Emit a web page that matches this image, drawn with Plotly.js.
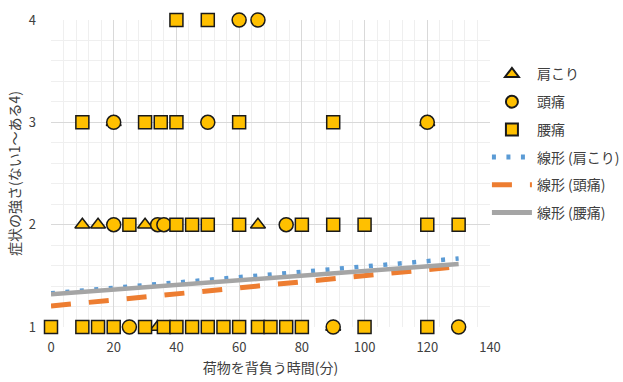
<!DOCTYPE html>
<html>
<head>
<meta charset="utf-8">
<script src="https://cdn.plot.ly/plotly-3.0.1.min.js"></script>
<style>
  html, body { margin: 0; padding: 0; background: #fff; }
  #chart { width: 623px; height: 382px; }
</style>
</head>
<body>
<div id="chart"></div>
<script>
// 肩こり (shoulder stiffness) observations: time carried (min) and symptom level
const shoulderX = [10, 15, 30, 66, 34, 90, 20, 120];
const shoulderY = [2, 2, 2, 2, 1, 1, 3, 3];

// 頭痛 (headache)
const headX = [25, 90, 130, 20, 34, 36, 75, 20, 50, 120, 60, 66];
const headY = [1, 1, 1, 2, 2, 2, 2, 3, 3, 3, 4, 4];

// 腰痛 (back pain)
const backX = [0, 10, 15, 20, 30, 36, 40, 45, 50, 55, 60, 66, 70, 75, 80, 100, 120,
               25, 40, 45, 50, 60, 80, 90, 100, 120, 130,
               10, 30, 35, 40, 60, 90,
               40, 50];
const backY = [1, 1, 1, 1, 1, 1, 1, 1, 1, 1, 1, 1, 1, 1, 1, 1, 1,
               2, 2, 2, 2, 2, 2, 2, 2, 2, 2,
               3, 3, 3, 3, 3, 3,
               4, 4];

// Linear trendline end values at the start and end of the time span
const trendX = [0, 130];
const trendShoulder = [1.33, 1.67];
const trendHead = [1.205, 1.59];
const trendBack = [1.32, 1.615];

const seriesNames = ['肩こり', '頭痛', '腰痛'];
const trendNames = ['線形 (肩こり)', '線形 (頭痛)', '線形 (腰痛)'];

const gold = '#ffc000';
const edge = { color: '#1a1a1a', width: 1.5 };

const markerTraces = [
  {
    x: shoulderX, y: shoulderY, name: seriesNames[0], type: 'scatter', mode: 'markers',
    legendgroup: 'a', legendrank: 1, cliponaxis: false,
    marker: { symbol: 'triangle-up', size: 13, color: gold, line: edge }
  },
  {
    x: headX, y: headY, name: seriesNames[1], type: 'scatter', mode: 'markers',
    legendgroup: 'b', legendrank: 2, cliponaxis: false,
    marker: { symbol: 'circle', size: 14, color: gold, line: edge }
  },
  {
    x: backX, y: backY, name: seriesNames[2], type: 'scatter', mode: 'markers',
    legendgroup: 'c', legendrank: 3, cliponaxis: false,
    marker: { symbol: 'square', size: 13, color: gold, line: edge }
  }
];

const trendTraces = [
  {
    x: trendX, y: trendShoulder, name: trendNames[0], type: 'scatter', mode: 'lines',
    legendgroup: 'd', legendrank: 4,
    line: { color: '#5b9bd5', width: 4.5, dash: '4px,10.5px' }
  },
  {
    x: trendX, y: trendHead, name: trendNames[1], type: 'scatter', mode: 'lines',
    legendgroup: 'e', legendrank: 5,
    line: { color: '#ed7d31', width: 5, dash: '20px,18px' }
  },
  {
    x: trendX, y: trendBack, name: trendNames[2], type: 'scatter', mode: 'lines',
    legendgroup: 'f', legendrank: 6,
    line: { color: '#a5a5a5', width: 4.5 }
  }
];

// trendlines underneath, markers on top
const data = trendTraces.concat(markerTraces);

const layout = {
  width: 623, height: 382,
  margin: { l: 51, r: 133, t: 20, b: 55, autoexpand: false },
  paper_bgcolor: '#fff', plot_bgcolor: '#fff',
  font: { family: '"Noto Sans CJK JP", "Noto Sans", sans-serif', color: '#595959', size: 13 },
  showlegend: true,
  legend: {
    x: 0.993, xanchor: 'left', y: 0.875, yanchor: 'top',
    traceorder: 'grouped', tracegroupgap: 6.5,
    itemwidth: 40, itemsizing: 'constant',
    font: { size: 14, color: '#404040' },
    bgcolor: 'rgba(0,0,0,0)'
  },
  xaxis: {
    range: [0, 140], dtick: 20, tick0: 0,
    showgrid: true, gridcolor: '#d9d9d9', gridwidth: 1,
    minor: { dtick: 4, showgrid: true, gridcolor: '#efefef', gridwidth: 1 },
    zeroline: false, showline: false, ticks: '',
    ticklabelstandoff: 11,
    tickfont: { size: 13, color: '#404040' },
    title: { text: '荷物を背負う時間(分)', font: { size: 14, color: '#404040' }, standoff: 8 }
  },
  yaxis: {
    range: [1, 4], dtick: 1, tick0: 1,
    showgrid: true, gridcolor: '#d9d9d9', gridwidth: 1,
    minor: { dtick: 0.2, showgrid: true, gridcolor: '#efefef', gridwidth: 1 },
    zeroline: false, showline: false, ticks: '',
    ticklabelstandoff: 14,
    tickfont: { size: 13, color: '#404040' },
    title: { text: '症状の強さ(ない1～ある4)', font: { size: 14, color: '#404040' }, standoff: 4 }
  }
};

Plotly.newPlot('chart', data, layout, { displayModeBar: false, staticPlot: true });
</script>
</body>
</html>
